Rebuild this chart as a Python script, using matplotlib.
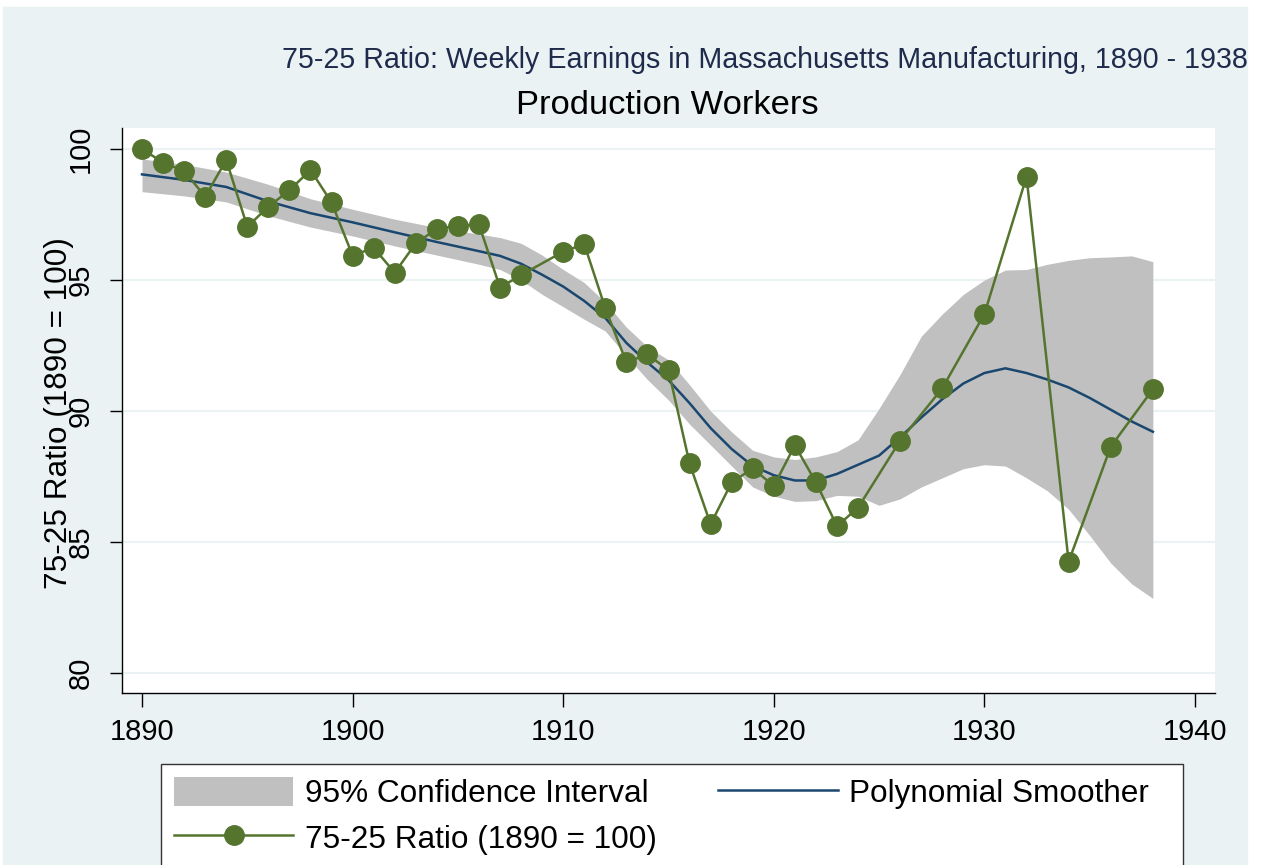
import matplotlib.pyplot as plt
from matplotlib import font_manager
from matplotlib.patches import Rectangle

plt.rcParams['font.family'] = ['Liberation Sans', 'DejaVu Sans']

# observed 75-25 ratio (1890 = 100)
years = [1890, 1891, 1892, 1893, 1894, 1895, 1896, 1897, 1898, 1899,
         1900, 1901, 1902, 1903, 1904, 1905, 1906, 1907, 1908,
         1910, 1911, 1912, 1913, 1914, 1915, 1916, 1917, 1918, 1919,
         1920, 1921, 1922, 1923, 1924, 1926, 1928, 1930, 1932, 1934,
         1936, 1938]
ratio = [100.0, 99.48, 99.16, 98.18, 99.58, 97.03, 97.80, 98.42, 99.20, 97.96,
         95.93, 96.23, 95.28, 96.40, 96.95, 97.07, 97.12, 94.71, 95.19,
         96.08, 96.37, 93.92, 91.86, 92.16, 91.56, 88.00, 85.68, 87.28, 87.81,
         87.14, 88.69, 87.28, 85.61, 86.31, 88.87, 90.87, 93.70, 98.94, 84.25,
         88.64, 90.83]

# polynomial smoother and 95% CI
fit_years = [1890, 1892, 1894, 1896, 1898, 1900, 1902, 1904, 1906, 1907,
             1908, 1909, 1910, 1911, 1912, 1913, 1914, 1915, 1916, 1917,
             1918, 1919, 1920, 1921, 1922, 1923, 1924, 1925, 1926, 1927,
             1928, 1929, 1930, 1931, 1932, 1933, 1934, 1935, 1936, 1937,
             1938]
smooth = [99.03, 98.82, 98.55, 98.00, 97.55, 97.20, 96.82, 96.45, 96.10, 95.92,
          95.62, 95.20, 94.75, 94.20, 93.55, 92.60, 91.85, 91.18, 90.30, 89.35,
          88.55, 87.90, 87.55, 87.35, 87.35, 87.60, 87.95, 88.30, 89.00, 89.75,
          90.45, 91.05, 91.45, 91.63, 91.45, 91.20, 90.90, 90.50, 90.05, 89.60,
          89.21]
ci_low = [98.37, 98.21, 97.98, 97.45, 97.02, 96.68, 96.30, 95.95, 95.60, 95.40,
          95.00, 94.45, 93.98, 93.50, 93.05, 92.10, 91.20, 90.42, 89.50, 88.70,
          87.90, 87.10, 86.75, 86.55, 86.58, 86.78, 86.75, 86.40, 86.65, 87.10,
          87.45, 87.80, 87.95, 87.90, 87.45, 86.95, 86.25, 85.25, 84.20, 83.40,
          82.85]
ci_high = [99.62, 99.41, 99.12, 98.65, 98.10, 97.70, 97.32, 97.00, 96.75, 96.62,
           96.40, 95.95, 95.40, 94.90, 94.15, 93.20, 92.45, 91.95, 91.00, 90.00,
           89.20, 88.50, 88.25, 88.15, 88.25, 88.45, 88.90, 90.10, 91.40, 92.85,
           93.70, 94.45, 95.00, 95.38, 95.40, 95.60, 95.75, 95.85, 95.88, 95.92,
           95.70]

xticks = [1890, 1900, 1910, 1920, 1930, 1940]
yticks = [80, 85, 90, 95, 100]

bg = '#EAF2F3'
green = '#55752F'
navy = '#1A476F'
band = '#C0C0C0'

# title is set in a narrow face when one is around
try:
    font_manager.findfont('Liberation Sans Narrow', fallback_to_default=False)
    title_font, title_size = ['Liberation Sans Narrow'], 25
except ValueError:
    title_font, title_size = ['Liberation Sans'], 20.6

W, H = 1262, 865
fig = plt.figure(figsize=(W / 100, H / 100), dpi=100, facecolor='white')
fig.patches.append(Rectangle((3 / W, 0), (1247 - 3) / W, (H - 7) / H,
                             transform=fig.transFigure, color=bg, zorder=-10))

ax = fig.add_axes([122 / W, 1 - 693 / H, (1215 - 122) / W, (693 - 128) / H])
ax.set_facecolor('white')

ax.fill_between(fit_years, ci_low, ci_high, color=band, lw=0,
                label='95% Confidence Interval', zorder=2)
ax.plot(fit_years, smooth, color=navy, lw=1.8, label='Polynomial Smoother', zorder=3)
ax.plot(years, ratio, color=green, lw=1.8, marker='o', markersize=14,
        label='75-25 Ratio (1890 = 100)', zorder=4)

ax.set_xlim(1889.05, 1940.95)
ax.set_ylim(79.24, 100.8)
ax.set_xticks(xticks)
ax.set_yticks(yticks)
ax.grid(axis='y', color=bg, lw=1.5, zorder=0)
ax.set_axisbelow(True)

for s in ['top', 'right']:
    ax.spines[s].set_visible(False)
for s in ['left', 'bottom']:
    ax.spines[s].set_color('black')
    ax.spines[s].set_linewidth(1.0)

ax.tick_params(axis='x', length=10, width=1, pad=8, labelsize=21, colors='black')
ax.tick_params(axis='y', length=9, width=1, pad=10.5, labelsize=21, colors='black',
               labelrotation=90)
for lab in ax.get_yticklabels():
    lab.set_va('center')

fig.text(59 / W, 1 - 413 / H, '75-25 Ratio (1890 = 100)', rotation=90,
         ha='center', va='center', fontsize=22.7)

fig.text(1248 / W, 1 - 60 / H,
         '75-25 Ratio: Weekly Earnings in Massachusetts Manufacturing, 1890 - 1938',
         ha='right', va='center', fontsize=title_size, color='#1E2B4C',
         family=title_font)
fig.text(667 / W, 1 - 105 / H, 'Production Workers', ha='center', va='center',
         fontsize=24.8, color='black')

# legend box
fig.patches.append(Rectangle((161 / W, -0.01), (1183 - 161) / W, 0.01 + 1 - 764 / H,
                             transform=fig.transFigure, facecolor='white',
                             edgecolor='#333333', lw=1.0, zorder=-5))
h, l = ax.get_legend_handles_labels()
fig.legend([h[0], h[2], h[1]], [l[0], l[2], l[1]], ncol=2, loc='upper left',
           bbox_to_anchor=(158 / W, 1 - 761 / H), frameon=False, fontsize=22.7,
           borderpad=0, handlelength=3.79, handleheight=1.06, handletextpad=0.37,
           columnspacing=1.95, labelspacing=0.42)

fig.savefig('out.png', dpi=100)
